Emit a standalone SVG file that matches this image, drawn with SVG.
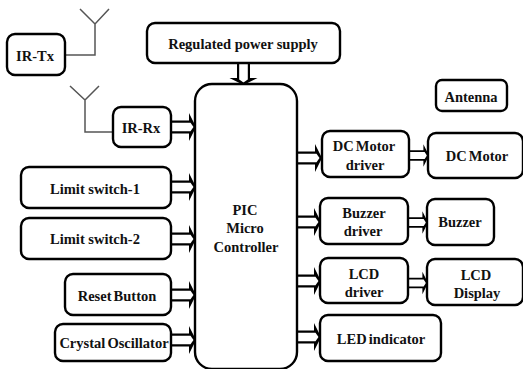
<svg xmlns="http://www.w3.org/2000/svg" width="523" height="369" viewBox="0 0 523 369">
<style>
.b{fill:#fff;stroke:#000;stroke-width:2.4}
.t{font-family:"Liberation Serif","Times New Roman",serif;font-weight:bold;font-size:14.500px;fill:#111;text-anchor:middle}
.n{word-spacing:-1.500px}
.w{fill:none;stroke:#555;stroke-width:1.5}
</style>
<defs>
<g id="ar"><path fill="#000" d="M-4-6.500H18V-14L25 0 18 14V6.500H-4Z"/><path fill="#fff" d="M-4-4.300H19.500L22.500 0 19.500 4.300H-4Z"/></g>
</defs>
<rect width="523" height="369" fill="#fff"/>
<g id="connectors">
<path class="w" d="M65 55H95V24M80 9L95 24 109 9"/>
<path class="w" d="M113 132H85V100M70 86L85 100 99 86"/>
<use href="#ar" x="171" y="127"/>
<use href="#ar" x="171" y="187"/>
<use href="#ar" x="171" y="239"/>
<use href="#ar" x="171" y="295"/>
<use href="#ar" x="171" y="340"/>
<use href="#ar" transform="translate(243.500 60) rotate(90)"/>
<use href="#ar" x="297" y="158"/>
<use href="#ar" x="296" y="222"/>
<use href="#ar" x="296" y="281"/>
<use href="#ar" x="296" y="337"/>
<use href="#ar" transform="translate(409 155.500) scale(.8)"/>
<use href="#ar" transform="translate(408 222.500) scale(.8)"/>
<use href="#ar" transform="translate(408 283) scale(.8)"/>
</g>
<g id="ir-tx"><rect class="b" x="7" y="34" width="58" height="41" rx="8"/><text class="t" x="35" y="61">IR-Tx</text></g>
<g id="power"><rect class="b" x="147" y="23" width="193" height="40" rx="8"/><text class="t" x="243" y="49">Regulated power supply</text></g>
<g id="pic"><rect class="b" x="195" y="84" width="102" height="285" rx="17"/><text class="t" x="245" y="215">PIC</text><text class="t" x="245" y="233">Micro</text><text class="t" x="246" y="252">Controller</text></g>
<g id="ir-rx"><rect class="b" x="113" y="107" width="58" height="40" rx="8"/><text class="t" x="141" y="133">IR-Rx</text></g>
<g id="limit1"><rect class="b" x="21" y="167" width="150" height="41" rx="8"/><text class="t" x="95" y="194">Limit switch-1</text></g>
<g id="limit2"><rect class="b" x="21" y="218" width="150" height="41" rx="8"/><text class="t" x="95" y="244">Limit switch-2</text></g>
<g id="reset"><rect class="b" x="65" y="274" width="106" height="41" rx="8"/><text class="t n" x="117" y="301">Reset Button</text></g>
<g id="crystal"><rect class="b" x="55" y="324" width="116" height="37" rx="8"/><text class="t n" x="114" y="348">Crystal Oscillator</text></g>
<g id="antenna"><rect class="b" x="436" y="80" width="71" height="31" rx="6"/><text class="t" x="471" y="102">Antenna</text></g>
<g id="dc-driver"><rect class="b" x="322" y="131" width="87" height="46" rx="8"/><text class="t n" x="364" y="151">DC Motor</text><text class="t" x="365" y="170">driver</text></g>
<g id="dc-motor"><rect class="b" x="428" y="133" width="95" height="45" rx="8"/><text class="t n" x="477" y="161">DC Motor</text></g>
<g id="buzzer-driver"><rect class="b" x="320" y="198" width="88" height="46" rx="8"/><text class="t" x="364" y="218">Buzzer</text><text class="t" x="363" y="236">driver</text></g>
<g id="buzzer"><rect class="b" x="427" y="199" width="67" height="46" rx="8"/><text class="t" x="460" y="227">Buzzer</text></g>
<g id="lcd-driver"><rect class="b" x="320" y="258" width="88" height="45" rx="8"/><text class="t" x="364" y="279">LCD</text><text class="t" x="364" y="297">driver</text></g>
<g id="lcd"><rect class="b" x="427" y="259" width="96" height="46" rx="8"/><text class="t" x="476" y="280">LCD</text><text class="t" x="477" y="298">Display</text></g>
<g id="led"><rect class="b" x="320" y="315" width="121" height="46" rx="8"/><text class="t n" x="381" y="344">LED indicator</text></g>
</svg>
